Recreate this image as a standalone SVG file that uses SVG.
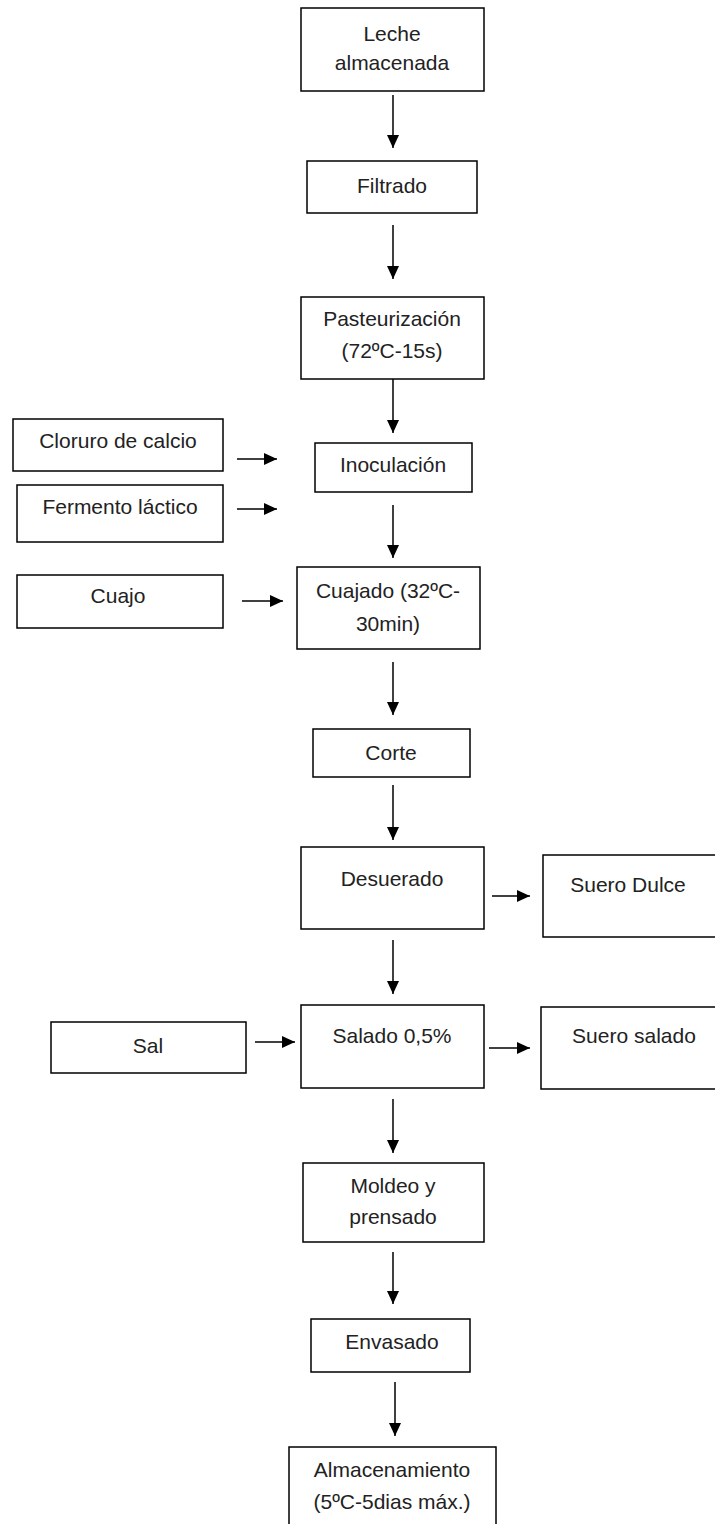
<svg xmlns="http://www.w3.org/2000/svg" width="715" height="1524" viewBox="0 0 715 1524">
<style>
.b{fill:#fff;stroke:#000;stroke-width:1.5}
.t{font-family:"Liberation Sans",Arial,sans-serif;font-size:21px;fill:#222;text-anchor:middle}
.c{stroke:#000;stroke-width:1.5;fill:none;marker-end:url(#ah)}
</style>
<defs>
<marker id="ah" markerUnits="userSpaceOnUse" markerWidth="13" markerHeight="12" refX="13" refY="6" orient="auto">
<path d="M0,0 L13,6 L0,12 z" fill="#000"/>
</marker>
</defs>
<rect width="715" height="1524" fill="#fff"/>
<g id="connectors">
<line class="c" x1="393" y1="95" x2="393" y2="148"/>
<line class="c" x1="393" y1="225" x2="393" y2="279"/>
<line class="c" x1="393" y1="379" x2="393" y2="433"/>
<line class="c" x1="393" y1="505" x2="393" y2="558"/>
<line class="c" x1="237" y1="459" x2="277" y2="459"/>
<line class="c" x1="237" y1="509" x2="277" y2="509"/>
<line class="c" x1="242" y1="601" x2="283" y2="601"/>
<line class="c" x1="393" y1="662" x2="393" y2="715"/>
<line class="c" x1="393" y1="785" x2="393" y2="840"/>
<line class="c" x1="492" y1="896" x2="530" y2="896"/>
<line class="c" x1="393" y1="940" x2="393" y2="994"/>
<line class="c" x1="255" y1="1042" x2="295" y2="1042"/>
<line class="c" x1="489" y1="1048" x2="530" y2="1048"/>
<line class="c" x1="393" y1="1099" x2="393" y2="1153"/>
<line class="c" x1="393" y1="1252" x2="393" y2="1304"/>
<line class="c" x1="395" y1="1382" x2="395" y2="1436"/>
</g>
<g id="leche"><rect class="b" x="301" y="8" width="183" height="83"/><text class="t" x="392" y="41">Leche</text><text class="t" x="392" y="70">almacenada</text></g>
<g id="filtrado"><rect class="b" x="307" y="161" width="170" height="52"/><text class="t" x="392" y="193">Filtrado</text></g>
<g id="pasteurizacion"><rect class="b" x="301" y="297" width="183" height="82"/><text class="t" x="392" y="326">Pasteurización</text><text class="t" x="392" y="358">(72ºC-15s)</text></g>
<g id="inoculacion"><rect class="b" x="315" y="443" width="157" height="49"/><text class="t" x="393" y="472">Inoculación</text></g>
<g id="cloruro"><rect class="b" x="13" y="419" width="210" height="52"/><text class="t" x="118" y="448">Cloruro de calcio</text></g>
<g id="fermento"><rect class="b" x="17" y="485" width="206" height="57"/><text class="t" x="120" y="514">Fermento láctico</text></g>
<g id="cuajo"><rect class="b" x="17" y="575" width="206" height="53"/><text class="t" x="118" y="603">Cuajo</text></g>
<g id="cuajado"><rect class="b" x="297" y="567" width="183" height="82"/><text class="t" x="388" y="598">Cuajado (32ºC-</text><text class="t" x="388" y="631">30min)</text></g>
<g id="corte"><rect class="b" x="313" y="729" width="157" height="48"/><text class="t" x="391" y="760">Corte</text></g>
<g id="desuerado"><rect class="b" x="301" y="847" width="183" height="82"/><text class="t" x="392" y="886">Desuerado</text></g>
<g id="suero-dulce"><rect class="b" x="543" y="855" width="180" height="82"/><text class="t" x="628" y="892">Suero Dulce</text></g>
<g id="sal"><rect class="b" x="51" y="1022" width="195" height="51"/><text class="t" x="148" y="1053">Sal</text></g>
<g id="salado"><rect class="b" x="301" y="1005" width="183" height="83"/><text class="t" x="392" y="1043">Salado 0,5%</text></g>
<g id="suero-salado"><rect class="b" x="541" y="1007" width="180" height="82"/><text class="t" x="634" y="1043">Suero salado</text></g>
<g id="moldeo"><rect class="b" x="303" y="1163" width="181" height="79"/><text class="t" x="393" y="1193">Moldeo y</text><text class="t" x="393" y="1224">prensado</text></g>
<g id="envasado"><rect class="b" x="311" y="1319" width="159" height="53"/><text class="t" x="392" y="1349">Envasado</text></g>
<g id="almacenamiento"><rect class="b" x="289" y="1447" width="207" height="90"/><text class="t" x="392" y="1477">Almacenamiento</text><text class="t" x="392" y="1509">(5ºC-5dias máx.)</text></g>
</svg>
